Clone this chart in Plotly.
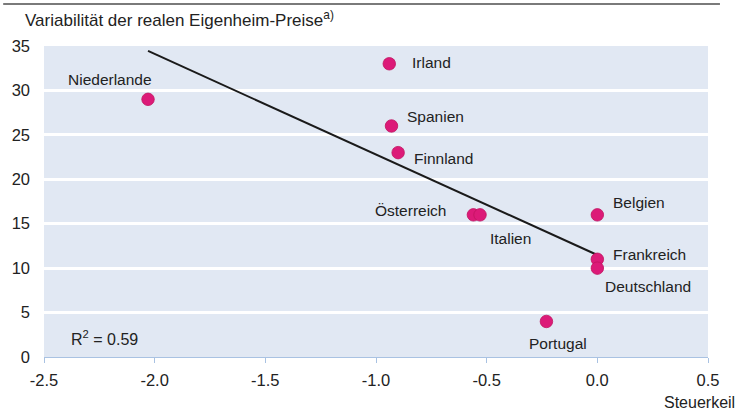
import numpy as np
import plotly.graph_objects as go

countries = ["Niederlande", "Irland", "Spanien", "Finnland", "Österreich", "Italien",
             "Belgien", "Frankreich", "Deutschland", "Portugal"]
steuerkeil = [-2.03, -0.94, -0.93, -0.90, -0.56, -0.53, 0.0, 0.0, 0.0, -0.23]
variabilitaet = [29, 33, 26, 23, 16, 16, 16, 11, 10, 4]
r_squared_label = "0.59"
x_ticks = [-2.5, -2.0, -1.5, -1.0, -0.5, 0.0, 0.5]
y_ticks = [0, 5, 10, 15, 20, 25, 30, 35]

# label placement (pixel offsets from point)
label_style = {
    "Niederlande": dict(xanchor="center", xshift=-38, yshift=20),
    "Irland": dict(xanchor="left", xshift=21, yshift=1),
    "Spanien": dict(xanchor="left", xshift=14, yshift=9),
    "Finnland": dict(xanchor="left", xshift=14, yshift=-6),
    "Österreich": dict(xanchor="right", xshift=-24, yshift=4),
    "Italien": dict(xanchor="left", xshift=8, yshift=-24),
    "Belgien": dict(xanchor="left", xshift=14, yshift=12),
    "Frankreich": dict(xanchor="left", xshift=14, yshift=5),
    "Deutschland": dict(xanchor="left", xshift=6, yshift=-18),
    "Portugal": dict(xanchor="center", xshift=12, yshift=-22),
}

slope, intercept = np.polyfit(steuerkeil, variabilitaet, 1)
trend_x = [min(steuerkeil), max(steuerkeil)]
trend_y = [slope * v + intercept for v in trend_x]

FONT = "Liberation Sans, Arial, sans-serif"
TXT = "#222222"
fig = go.Figure()
fig.add_trace(go.Scatter(x=trend_x, y=trend_y, mode="lines",
                         line=dict(color="#1a1a1a", width=2), hoverinfo="skip"))
fig.add_trace(go.Scatter(x=steuerkeil, y=variabilitaet, mode="markers",
                         marker=dict(size=12.5, color="#dc1a78",
                                     line=dict(color="#c0145f", width=0.8)),
                         text=countries))

for c, xv, yv in zip(countries, steuerkeil, variabilitaet):
    st = label_style[c]
    fig.add_annotation(x=xv, y=yv, text=c, showarrow=False, xanchor=st["xanchor"],
                       yanchor="middle", xshift=st["xshift"], yshift=st["yshift"],
                       font=dict(size=15.5, color=TXT, family=FONT))

fig.add_annotation(x=-2.5, y=0, xref="x", yref="y", text="R<sup>2</sup> = " + r_squared_label,
                   showarrow=False, xanchor="left", yanchor="middle", xshift=25, yshift=19,
                   font=dict(size=16, color=TXT, family=FONT))

fig.add_annotation(xref="paper", yref="paper", x=0, y=1, xshift=-21, yshift=27,
                   text="Variabilität der realen Eigenheim-Preise<sup>a)</sup>",
                   showarrow=False, xanchor="left", yanchor="middle",
                   font=dict(size=17, color=TXT, family=FONT))
fig.add_annotation(xref="paper", yref="paper", x=1, y=0, xshift=29, yshift=-45,
                   text="Steuerkeil", showarrow=False, xanchor="right", yanchor="middle",
                   font=dict(size=16, color=TXT, family=FONT))

fig.add_shape(type="line", xref="paper", yref="paper", x0=-41/667, x1=(720-41)/667,
              y0=1 + 42/311, y1=1 + 42/311, line=dict(color="#7a7a7a", width=2))

fig.update_layout(
    width=746, height=410,
    margin=dict(l=41, r=38, t=46, b=53),
    paper_bgcolor="white", plot_bgcolor="#e1e8f3",
    showlegend=False,
    font=dict(family=FONT, size=16, color=TXT),
)
fig.update_xaxes(range=[-2.5, 0.5], tickvals=x_ticks,
                 ticktext=[f"{v:.1f}" for v in x_ticks],
                 showgrid=False, zeroline=False, showline=True, linecolor="#a9c2e2", linewidth=1,
                 ticks="outside", ticklen=5, tickcolor="#a9c2e2", tickfont=dict(size=16.5),
                 ticklabelstandoff=3)
fig.update_yaxes(range=[0, 35], tickvals=y_ticks,
                 showgrid=True, gridcolor="white", gridwidth=2.5, zeroline=False,
                 showline=False, ticks="", tickfont=dict(size=16.5), ticklabelstandoff=13)

fig.write_html("out.html", config={"displayModeBar": False},
               post_script="document.body.style.margin='0';")
